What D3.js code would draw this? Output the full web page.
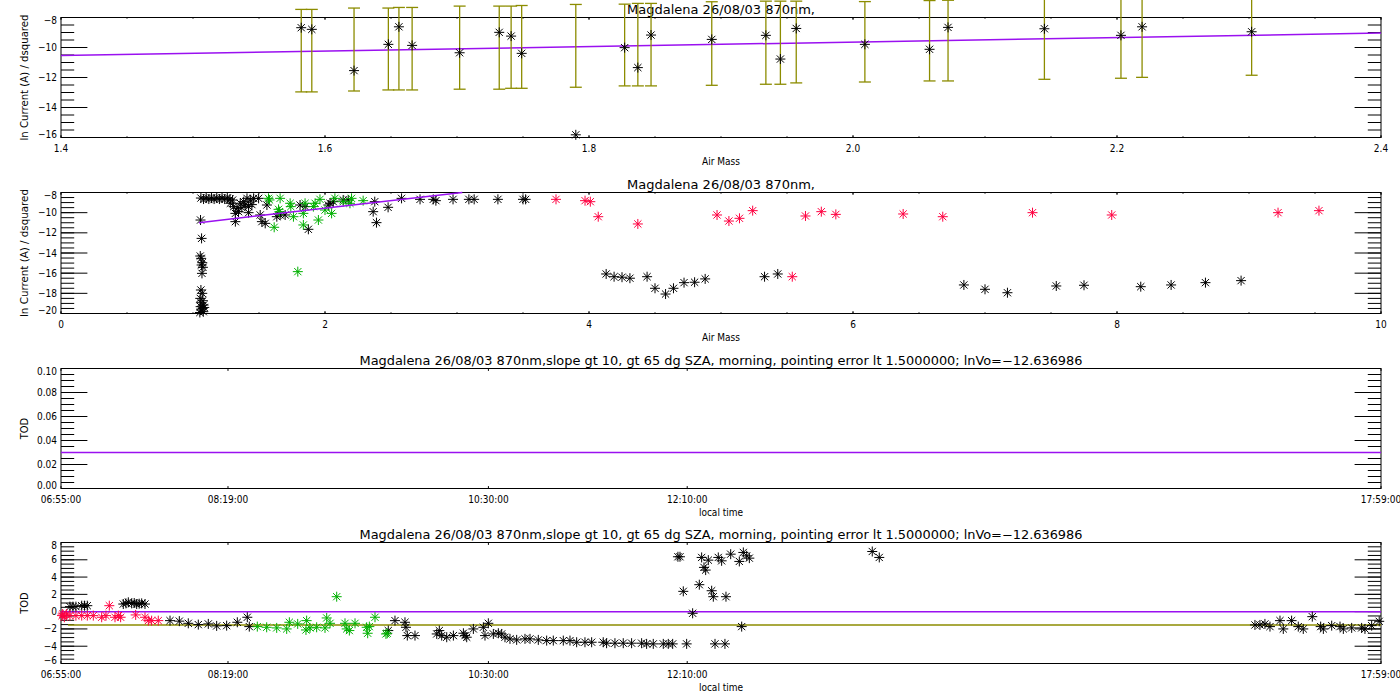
<!DOCTYPE html>
<html>
<head>
<meta charset="utf-8">
<script src="https://cdn.jsdelivr.net/npm/d3@7"></script>
<style>
  body { margin: 0; background: #fff; }
  svg { display: block; }
  text { font-family: "DejaVu Sans Condensed", "DejaVu Sans", sans-serif; fill: #000; }
</style>
</head>
<body>
<div id="chart"></div>
<script>
// ---- panel 1: ln current vs air mass, with error bars ----
var p1Airmass = [1.582, 1.590, 1.622, 1.648, 1.656, 1.666, 1.702, 1.732, 1.741, 1.749, 1.790, 1.827, 1.837,
	1.847, 1.893, 1.934, 1.945, 1.957, 2.009, 2.058, 2.072, 2.145, 2.203, 2.219, 2.302];
var p1LnI = [-8.68, -8.79, -11.54, -9.79, -8.62, -9.86, -10.35, -8.99, -9.24, -10.39, -15.82, -10.01, -11.34,
	-9.17, -9.46, -9.19, -10.77, -8.73, -9.79, -10.12, -8.66, -8.75, -9.19, -8.62, -8.95];
var p1ErrLow = [-12.96, -12.96, -12.90, -12.83, -12.83, -12.83, -12.78, -12.78, -12.72, -12.72, -12.65, -12.56, -12.56,
	-12.56, -12.52, -12.45, -12.45, -12.36, -12.30, -12.23, -12.23, -12.12, -12.05, -11.99, -11.85];
var p1ErrHigh = [-7.46, -7.46, -7.37, -7.37, -7.33, -7.33, -7.24, -7.24, -7.24, -7.20, -7.13, -7.11, -7.06,
	-7.06, -6.95, -6.91, -6.91, -6.91, -6.94, -6.87, -6.85, -6.72, -6.63, -6.61, -6.48];
var p1FitX = [1.4, 2.4];
var p1FitY = [-10.54, -9.04];

// ---- panel 2: all measurements vs air mass ----
var p2BlackAirmass = [1.057, 1.065, 1.055, 1.062, 1.070, 1.065, 1.075, 1.068, 1.060, 1.070, 1.055, 1.075, 1.060, 1.080,
	1.058, 1.072, 1.063, 1.078, 1.052, 1.085,
	1.06, 1.08, 1.10, 1.12, 1.14, 1.16, 1.18, 1.20, 1.22, 1.24, 1.26, 1.28,
	1.283, 1.300, 1.308, 1.321, 1.321, 1.333, 1.345, 1.358, 1.370, 1.384, 1.395, 1.409, 1.421, 1.421, 1.434, 1.446, 1.459,
	1.497, 1.509, 1.522, 1.547, 1.560, 1.635, 1.660, 1.698, 1.811, 1.850, 1.874, 2.025, 2.038, 2.063, 2.138, 2.176,
	2.365, 2.377, 2.390, 2.478, 2.58, 2.72, 2.82, 2.84, 2.97, 3.09, 3.13, 3.31, 3.50, 3.52,
	4.13, 4.19, 4.25, 4.31, 4.44, 4.50, 4.58, 4.64, 4.72, 4.80, 4.88, 5.33, 5.43,
	6.84, 7.00, 7.17, 7.54, 7.75, 8.18, 8.41, 8.67, 8.94];
var p2BlackLnI = [-10.73, -12.55, -14.30, -14.53, -14.96, -15.19, -15.42, -16.02, -17.67, -18.00, -18.50, -18.73, -18.93, -19.16,
	-19.32, -19.49, -19.65, -19.82, -19.90, -19.40,
	-8.55, -8.65, -8.55, -8.65, -8.55, -8.65, -8.55, -8.65, -8.55, -8.65, -8.55, -8.65,
	-9.07, -8.75, -9.40, -10.07, -10.89, -9.57, -9.90, -9.07, -9.50, -8.91, -9.24, -8.58, -9.40, -10.00, -8.74, -9.20, -8.58,
	-8.58, -10.23, -10.89, -11.06, -9.24, -10.40, -10.23, -10.23, -9.24, -9.40, -11.65, -9.24, -9.07, -8.91, -8.74, -8.74,
	-9.90, -8.91, -10.99, -9.47, -8.58, -8.68, -8.68, -8.81, -8.68, -8.68, -8.68, -8.68, -8.68, -8.68,
	-16.08, -16.35, -16.40, -16.50, -16.35, -17.50, -18.07, -17.50, -16.94, -16.90, -16.57, -16.35, -16.08,
	-17.17, -17.60, -17.94, -17.27, -17.20, -17.34, -17.17, -16.94, -16.74];
var p2GreenAirmass = [1.572, 1.580, 1.660, 1.615, 1.648, 1.655, 1.736, 1.741, 1.761, 1.794, 1.836, 1.836, 1.849,
	1.912, 1.925, 1.950, 1.962, 2.000, 2.050, 2.075, 2.138, 2.201, 2.189, 2.289];
var p2GreenLnI = [-8.58, -8.74, -8.58, -11.45, -9.67, -9.90, -9.07, -9.40, -10.40, -15.85, -10.07, -11.22, -9.07,
	-9.40, -9.07, -10.73, -8.68, -9.74, -10.07, -8.58, -8.91, -8.58, -9.07, -8.81];
var p2RedAirmass = [3.75, 3.97, 4.01, 4.07, 4.37, 4.97, 5.06, 5.14, 5.24, 5.54, 5.64, 5.76, 5.87, 6.38, 6.68,
	7.36, 7.96, 9.22, 9.53];
var p2RedLnI = [-8.68, -8.81, -8.91, -10.40, -11.12, -10.23, -10.83, -10.56, -9.80, -16.35, -10.33, -9.90, -10.17,
	-10.13, -10.40, -10.00, -10.23, -10.00, -9.80];
var p2FitX = [1.045, 3.04];
var p2FitY = [-10.99, -8.0];

// ---- panel 3: TOD line ----
var p3LineTime = ["06:55:00", "17:59:00"];
var p3LineTod = [0.03, 0.03];

// ---- panel 4: TOD vs local time ----
var p4RedTime = ["06:55:30", "06:55:50", "06:56:40", "06:57:51", "06:59:30", "07:02:30", "07:05:25", "07:08:14",
	"07:11:15", "07:15:28", "07:17:38", "07:19:18", "07:22:10", "07:23:50", "07:25:00", "07:32:34", "07:37:15",
	"07:38:55", "07:40:36", "07:43:56"];
var p4RedTod = [-0.46, -0.27, -0.65, -0.27, -0.46, -0.46, -0.46, -0.46, -0.46, -0.65, -0.46, 0.69, -0.65, -0.46,
	-0.65, -0.38, -0.65, -1.04, -1.04, -1.04];
var p4BlackTime = ["06:59:30", "07:01:00", "07:02:30", "07:05:25", "07:06:50", "07:08:14", "07:26:20", "07:27:40",
	"07:28:52", "07:30:33", "07:31:50", "07:33:04", "07:34:20", "07:35:35", "07:37:15",
	"07:49:50", "07:54:31", "07:59:02", "08:04:04", "08:09:06", "08:13:18", "08:18:20", "08:23:41", "08:28:43", "08:29:43",
	"09:39:38", "09:43:00", "09:48:02", "09:48:32", "09:49:12", "09:53:04", "10:04:00", "10:05:18", "10:06:30",
	"10:09:02", "10:12:23", "10:17:25", "10:18:15", "10:19:05", "10:22:26", "10:27:28", "10:28:17", "10:29:58",
	"10:32:29", "10:35:00", "10:36:40", "10:38:20", "10:40:51", "10:44:13", "10:48:24", "10:50:55", "10:55:06",
	"10:59:18", "11:02:38", "11:07:40", "11:11:02", "11:14:23", "11:18:34", "11:21:56", "11:27:46", "11:29:27",
	"11:33:39", "11:37:50", "11:42:02", "11:47:04", "11:49:35", "11:52:56", "11:57:58", "12:00:29", "12:02:41",
	"12:05:20", "12:06:22", "12:08:02", "12:09:43", "12:12:44", "12:16:05", "12:17:16", "12:18:26", "12:19:17",
	"12:20:37", "12:22:18", "12:23:08", "12:23:59", "12:25:38", "12:27:19", "12:28:59", "12:29:30", "12:31:52",
	"12:36:13", "12:37:24", "12:38:14", "12:39:55", "12:41:15", "13:43:05", "13:46:37",
	"16:55:36", "16:58:06", "17:00:37", "17:03:09", "17:08:11", "17:09:51", "17:14:02", "17:17:23", "17:19:54",
	"17:24:26", "17:28:39", "17:30:00", "17:34:12", "17:38:23", "17:40:03", "17:44:15", "17:49:16", "17:50:56",
	"17:54:18", "17:58:06"];
var p4BlackTod = [0.58, 0.58, 0.58, 0.69, 0.69, 0.69, 0.88, 0.96, 1.08, 0.96, 1.00, 0.88, 0.92, 0.96, 0.88,
	-1.04, -1.10, -1.35, -1.50, -1.42, -1.65, -1.62, -1.23, -0.65, -1.73,
	-2.19, -1.04, -1.23, -1.81, -2.77, -2.77, -2.58, -2.19, -2.77,
	-2.96, -2.77, -2.50, -2.77, -2.96, -2.00, -1.81, -2.77, -1.35,
	-2.58, -2.50, -2.58, -2.96, -3.15, -3.27, -3.15, -3.15, -3.27,
	-3.35, -3.35, -3.35, -3.35, -3.54, -3.54, -3.54, -3.54, -3.65,
	-3.65, -3.65, -3.65, -3.65, -3.73, -3.73, -3.73, -3.73, -3.73,
	6.35, 6.35, 2.35, -3.73, -0.19, 3.12, 6.27, 5.12, 4.81,
	5.96, 2.42, 1.73, -3.73, 6.27, 5.88, -3.73, 1.73, 6.65,
	5.81, -1.73, 6.85, 6.46, 6.19, 6.96, 6.27,
	-1.54, -1.54, -1.42, -1.73, -1.04, -2.00, -1.04, -1.73, -2.00,
	-0.58, -1.73, -2.00, -1.62, -1.73, -2.00, -1.88, -1.88, -2.00,
	-1.62, -1.12];
var p4GreenTime = ["08:33:45", "08:38:28", "08:43:30", "08:48:32", "08:49:52", "08:54:04", "08:58:14", "08:58:34",
	"09:00:15", "09:03:36", "09:07:48", "09:08:39", "09:10:20", "09:13:41", "09:17:52", "09:18:43", "09:20:03",
	"09:22:54", "09:28:46", "09:29:16", "09:30:06", "09:32:57", "09:38:28", "09:39:08"];
var p4GreenTod = [-1.73, -1.81, -1.88, -2.00, -1.23, -1.42, -2.12, -1.04, -1.88, -1.81, -1.88, -0.73, -1.35, 1.73,
	-1.35, -2.00, -2.19, -1.35, -1.81, -2.50, -1.73, -0.65, -2.58, -2.50];
var p4ZeroTime = ["06:55:00", "17:59:00"];
var p4ZeroTod = [0, 0];
var p4MeanTime = ["06:58:30", "17:59:00"];
var p4MeanTod = [-1.54, -1.54];

var timeTicks = ["06:55:00", "08:19:00", "10:30:00", "12:10:00", "17:59:00"];
var title1 = "Magdalena 26/08/03 870nm,";
var title2 = "Magdalena 26/08/03 870nm,slope gt 10, gt 65 dg SZA, morning, pointing error lt 1.5000000; lnVo=\u221212.636986";

var colBlack = "#000", colRed = "#ff0040", colGreen = "#00b000", colPurple = "#9a10f0", colOlive = "#8c8c00";

var svg = d3.select("#chart").append("svg")
	.attr("width", 1400)
	.attr("height", 700);
svg.append("rect").attr("width", 1400).attr("height", 700).attr("fill", "#fff");

var left = 61, right = 1381;
var parseTime = d3.timeParse("%H:%M:%S");
var fmtTime = d3.timeFormat("%H:%M:%S");
var minus = function(v) { return String(v).replace("-", "\u2212"); };

function range(a, b, step) {
	return d3.range(Math.round((b - a) / step) + 1).map(function(i) { return +(a + i * step).toFixed(4); });
}

// box, ticks on all four sides (IDL style, inward), labels left and bottom
function frame(top, bottom, x, y, o) {
	var g = svg.append("g");
	var ylen = 0.02 * (right - left), xlen = 0.02 * (bottom - top);

	function yTicks(vals, len, labels) {
		[[left, 1], [right, -1]].forEach(function(s) {
			g.selectAll(null).data(vals).enter().append("line")
				.attr("x1", s[0]).attr("x2", s[0] + s[1] * len)
				.attr("y1", function(d) { return y(d); }).attr("y2", function(d) { return y(d); })
				.attr("stroke", "#000");
		});
		if (!labels) return;
		g.selectAll(null).data(vals).enter().append("text")
			.attr("x", left - 4)
			.attr("y", function(d, i) { return y(d) + 3.5 + (i == 0 ? -3 : i == vals.length - 1 ? 3 : 0); })
			.attr("text-anchor", "end")
			.attr("font-size", 10)
			.text(function(d) { return o.yFormat(d); });
	}
	function xTicks(vals, len, labels) {
		[[bottom, -1], [top, 1]].forEach(function(s) {
			g.selectAll(null).data(vals).enter().append("line")
				.attr("x1", function(d) { return x(d); }).attr("x2", function(d) { return x(d); })
				.attr("y1", s[0]).attr("y2", s[0] + s[1] * len)
				.attr("stroke", "#000");
		});
		if (!labels) return;
		g.selectAll(null).data(vals).enter().append("text")
			.attr("x", function(d) { return x(d); })
			.attr("y", bottom + 14.5)
			.attr("text-anchor", "middle")
			.attr("font-size", 10)
			.text(function(d) { return o.xFormat(d); });
	}
	yTicks(o.yMinor, ylen / 2, false);
	yTicks(o.yMajor, ylen, true);
	if (o.xMinor) xTicks(o.xMinor, xlen / 2, false);
	xTicks(o.xMajor, xlen, true);

	g.append("rect")
		.attr("x", left).attr("y", top)
		.attr("width", right - left).attr("height", bottom - top)
		.attr("fill", "none").attr("stroke", "#000");

	g.append("text")
		.attr("x", (left + right) / 2).attr("y", bottom + 27)
		.attr("text-anchor", "middle").attr("font-size", 10)
		.text(o.xTitle);
	g.append("text")
		.attr("transform", "translate(28," + ((top + bottom) / 2) + ") rotate(-90)")
		.attr("text-anchor", "middle").attr("font-size", 11)
		.attr("textLength", o.yTitleLen || null)
		.attr("lengthAdjust", "spacingAndGlyphs")
		.text(o.yTitle);
	g.append("text")
		.attr("x", (left + right) / 2).attr("y", top - 4)
		.attr("text-anchor", "middle").attr("font-size", 12)
		.attr("textLength", o.titleLen)
		.attr("lengthAdjust", "spacingAndGlyphs")
		.text(o.title);
}

function stars(xs, ys, x, y, color) {
	var r = 5, d = 3.6;
	var p = "M" + (-r) + ",0H" + r + "M0," + (-r) + "V" + r +
		"M" + (-d) + "," + (-d) + "L" + d + "," + d + "M" + (-d) + "," + d + "L" + d + "," + (-d);
	svg.append("g").selectAll("path")
		.data(xs)
		.enter()
		.append("path")
		.attr("d", p)
		.attr("transform", function(d, i) { return "translate(" + x(d) + "," + y(ys[i]) + ")"; })
		.attr("fill", "none")
		.attr("stroke", color)
		.attr("stroke-width", 1);
}

function line(xs, ys, x, y, color) {
	svg.append("path")
		.datum(xs.map(function(d, i) { return [d, ys[i]]; }))
		.attr("d", d3.line().x(function(d) { return x(d[0]); }).y(function(d) { return y(d[1]); }))
		.attr("fill", "none")
		.attr("stroke", color)
		.attr("stroke-width", 1.5);
}

// ---------- panel 1 ----------
var x1 = d3.scaleLinear().domain([1.4, 2.4]).range([left, right]);
var y1 = d3.scaleLinear().domain([-16, -8]).range([137.5, 17.5]);
frame(17.5, 137.5, x1, y1, {
	yMajor: range(-16, -8, 2), yMinor: range(-16, -8, 0.5), yFormat: minus,
	xMajor: range(1.4, 2.4, 0.2), xMinor: range(1.4, 2.4, 0.05), xFormat: d3.format(".1f"),
	xTitle: "Air Mass", yTitle: "ln Current (A)  /  dsquared", yTitleLen: 126,
	title: title1, titleLen: 188
});
line(p1FitX, p1FitY, x1, y1, colPurple);
// error bars
var eb = svg.append("g").attr("stroke", colOlive).attr("stroke-width", 1.3);
p1Airmass.forEach(function(a, i) {
	var xp = x1(a);
	eb.append("line").attr("x1", xp).attr("x2", xp).attr("y1", y1(p1ErrLow[i])).attr("y2", y1(p1ErrHigh[i]));
	eb.append("line").attr("x1", xp - 6).attr("x2", xp + 6).attr("y1", y1(p1ErrLow[i])).attr("y2", y1(p1ErrLow[i]));
	eb.append("line").attr("x1", xp - 6).attr("x2", xp + 6).attr("y1", y1(p1ErrHigh[i])).attr("y2", y1(p1ErrHigh[i]));
});
stars(p1Airmass, p1LnI, x1, y1, colBlack);

// ---------- panel 2 ----------
var x2 = d3.scaleLinear().domain([0, 10]).range([left, right]);
var y2 = d3.scaleLinear().domain([-20, -8]).range([313.5, 192.5]);
frame(192.5, 313.5, x2, y2, {
	yMajor: range(-20, -8, 2), yMinor: range(-20, -8, 0.5), yFormat: minus,
	xMajor: range(0, 10, 2), xMinor: range(0, 10, 0.5), xFormat: d3.format("d"),
	xTitle: "Air Mass", yTitle: "ln Current (A)  /  dsquared", yTitleLen: 128,
	title: title1, titleLen: 188
});
stars(p2BlackAirmass, p2BlackLnI, x2, y2, colBlack);
stars(p2GreenAirmass, p2GreenLnI, x2, y2, colGreen);
stars(p2RedAirmass, p2RedLnI, x2, y2, colRed);
line(p2FitX, p2FitY, x2, y2, colPurple);

// ---------- panel 3 ----------
var tDomain = [parseTime("06:55:00"), parseTime("17:59:00")];
var x3 = d3.scaleTime().domain(tDomain).range([left, right]);
var y3 = d3.scaleLinear().domain([0, 0.1]).range([488.5, 368.5]);
frame(368.5, 488.5, x3, y3, {
	yMajor: range(0, 0.1, 0.02), yMinor: range(0, 0.1, 0.005), yFormat: d3.format(".2f"),
	xMajor: timeTicks.map(parseTime), xFormat: fmtTime,
	xTitle: "local time", yTitle: "TOD",
	title: title2, titleLen: 723
});
line(p3LineTime.map(parseTime), p3LineTod, x3, y3, colPurple);

// ---------- panel 4 ----------
var x4 = d3.scaleTime().domain(tDomain).range([left, right]);
var y4 = d3.scaleLinear().domain([-6, 8]).range([663.5, 542.5]);
frame(542.5, 663.5, x4, y4, {
	yMajor: range(-6, 8, 2), yMinor: range(-6, 8, 0.5), yFormat: minus,
	xMajor: timeTicks.map(parseTime), xFormat: fmtTime,
	xTitle: "local time", yTitle: "TOD",
	title: title2, titleLen: 723
});
line(p4ZeroTime.map(parseTime), p4ZeroTod, x4, y4, colPurple);
line(p4MeanTime.map(parseTime), p4MeanTod, x4, y4, colOlive);
stars(p4BlackTime.map(parseTime), p4BlackTod, x4, y4, colBlack);
stars(p4RedTime.map(parseTime), p4RedTod, x4, y4, colRed);
stars(p4GreenTime.map(parseTime), p4GreenTod, x4, y4, colGreen);
</script>
</body>
</html>
